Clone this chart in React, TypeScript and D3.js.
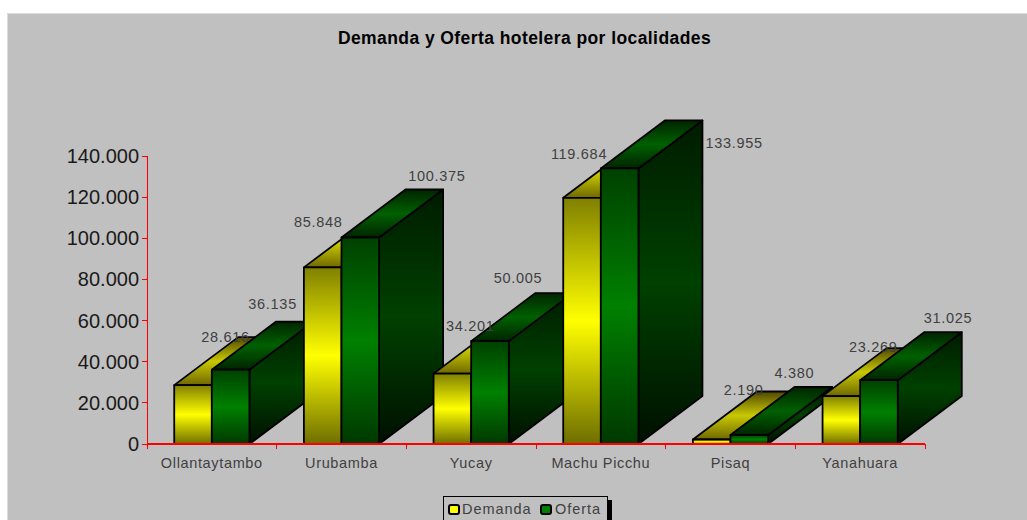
import React from "react";
import * as d3 from "d3";

const categories = ["Ollantaytambo", "Urubamba", "Yucay", "Machu Picchu", "Pisaq", "Yanahuara"];
const demanda = [28616, 85848, 34201, 119684, 2190, 23269];
const oferta = [36135, 100375, 50005, 133955, 4380, 31025];
const yTicks = [0, 20000, 40000, 60000, 80000, 100000, 120000, 140000];
const seriesNames = ["Demanda", "Oferta"];
const title = "Demanda y Oferta hotelera por localidades";

// Hand-placed label offsets (from the top-back centre of each bar), as the original chart scatters them.
const demandaLabelNudge: [number, number][] = [[0.5, 0], [-36.5, 2.6], [-14, 0], [-35, 4], [0, -1.5], [0, -1]];
const ofertaLabelNudge: [number, number][] = [[10, -18], [44.5, -13.5], [-4, -15], [82.5, 22.6], [13, -14], [37, -14]];

const W = 1027, H = 520;
const DX = 64, DY = 48;
const FONT = "'Liberation Sans', Arial, sans-serif";

const fmt = (v: number) => d3.format(",")(v).replace(/,/g, ".");

const x = d3.scaleBand<string>().domain(categories).range([147, 925]).paddingInner(0.42).paddingOuter(0.21);
const y = d3.scaleLinear().domain([0, 140000]).range([444, 156]);

function Grad({ id, stops }: { id: string; stops: string[] }) {
  return (
    <linearGradient id={id} x1="0" y1="0" x2="0" y2="1">
      {stops.map((c, i) => (
        <stop key={i} offset={i / (stops.length - 1)} stopColor={c} />
      ))}
    </linearGradient>
  );
}

function Bar({ x0, w, v, kind }: { x0: number; w: number; v: number; kind: "y" | "g" }) {
  const t = y(v), b = y(0), x1 = x0 + w;
  const pts = (p: number[][]) => p.map((q) => q.join(",")).join(" ");
  const stroke = { stroke: "#000", strokeWidth: 1.8, strokeLinejoin: "round" as const };
  return (
    <g>
      <polygon points={pts([[x1, t], [x1 + DX, t - DY], [x1 + DX, b - DY], [x1, b]])} fill={`url(#${kind}Side)`} {...stroke} />
      <polygon points={pts([[x0, t], [x0 + DX, t - DY], [x1 + DX, t - DY], [x1, t]])} fill={`url(#${kind}Top)`} {...stroke} />
      <rect x={x0} y={t} width={w} height={b - t} fill={`url(#${kind}Front)`} {...stroke} />
    </g>
  );
}

export default function App() {
  const bw = x.bandwidth() / 2;
  const step = x.step();
  const [x0Axis, x1Axis] = x.range();
  const boundaries = d3.range(categories.length + 1).map((i) => x0Axis + i * step);
  return (
    <svg width={W} height={H} viewBox={`0 0 ${W} ${H}`} style={{ position: "absolute", left: 0, top: 0, background: "#fff" }}>
      <defs>
        <Grad id="yFront" stops={["#808000", "#ffff00", "#6e6e00"]} />
        <Grad id="gFront" stops={["#004000", "#008000", "#003800"]} />
        <Grad id="ySide" stops={["#606000", "#b0b000", "#505000"]} />
        <Grad id="gSide" stops={["#001c00", "#004000", "#001000"]} />
        <Grad id="yTop" stops={["#504800", "#c8c800", "#706800"]} />
        <Grad id="gTop" stops={["#002400", "#006000", "#002400"]} />
      </defs>
      <rect x={7} y={13} width={1020} height={507} fill="#c0c0c0" />
      <path d="M7.5 520V13.5H1027" fill="none" stroke="#dcdcdc" />

      <text x={524.5} y={44} textAnchor="middle" fontFamily={FONT} fontWeight="bold" fontSize={17.5} letterSpacing={0.42} fill="#000">
        {title}
      </text>

      {categories.map((c, i) => {
        const x0 = x(c)!;
        return (
          <g key={c}>
            <Bar x0={x0} w={bw} v={demanda[i]} kind="y" />
            <Bar x0={x0 + bw} w={bw} v={oferta[i]} kind="g" />
          </g>
        );
      })}

      <g stroke="#ff0000" strokeWidth={1} fill="none" shapeRendering="crispEdges">
        <line x1={x0Axis} x2={x1Axis} y1={y(0)} y2={y(0)} strokeWidth={1.5} />
        <line x1={x0Axis} x2={x0Axis} y1={y(140000)} y2={y(0) + 5} />
        {yTicks.map((t) => (
          <line key={t} x1={x0Axis - 5} x2={x0Axis} y1={y(t)} y2={y(t)} />
        ))}
        {boundaries.map((b) => (
          <line key={b} x1={b} x2={b} y1={y(0)} y2={y(0) + 5} />
        ))}
      </g>

      {yTicks.map((t) => (
        <text key={t} x={139} y={y(t) + 7} textAnchor="end" fontFamily={FONT} fontSize={20} fill="#1a1a1a">
          {fmt(t)}
        </text>
      ))}

      {categories.map((c) => (
        <text key={c} x={x(c)! + bw} y={468} textAnchor="middle" fontFamily={FONT} fontSize={14.5} letterSpacing={0.65} fill="#404040">
          {c}
        </text>
      ))}

      {categories.map((c, i) => {
        const x0 = x(c)!;
        const [n1, n2] = [demandaLabelNudge[i], ofertaLabelNudge[i]];
        return (
          <g key={c} fontFamily={FONT} fontSize={14.5} letterSpacing={0.7} fill="#404040" textAnchor="middle">
            <text x={x0 + bw / 2 + DX / 2 + n1[0]} y={y(demanda[i]) - DY + 5 + n1[1]}>{fmt(demanda[i])}</text>
            <text x={x0 + bw * 1.5 + DX / 2 + n2[0]} y={y(oferta[i]) - DY + 5 + n2[1]}>{fmt(oferta[i])}</text>
          </g>
        );
      })}

      <rect x={608} y={500} width={4} height={20} fill="#000" />
      <rect x={443.5} y={496.5} width={164} height={30} fill="#c0c0c0" stroke="#000" />
      <rect x={449} y={505} width={10} height={9} rx={2} fill="#ffff00" stroke="#000" strokeWidth={2} />
      <rect x={541} y={505} width={10} height={9} rx={2} fill="#008000" stroke="#000" strokeWidth={2} />
      <g fontFamily={FONT} fontSize={14.5} letterSpacing={0.95} fill="#404040">
        <text x={462} y={514}>{seriesNames[0]}</text>
        <text x={555} y={514}>{seriesNames[1]}</text>
      </g>
    </svg>
  );
}
